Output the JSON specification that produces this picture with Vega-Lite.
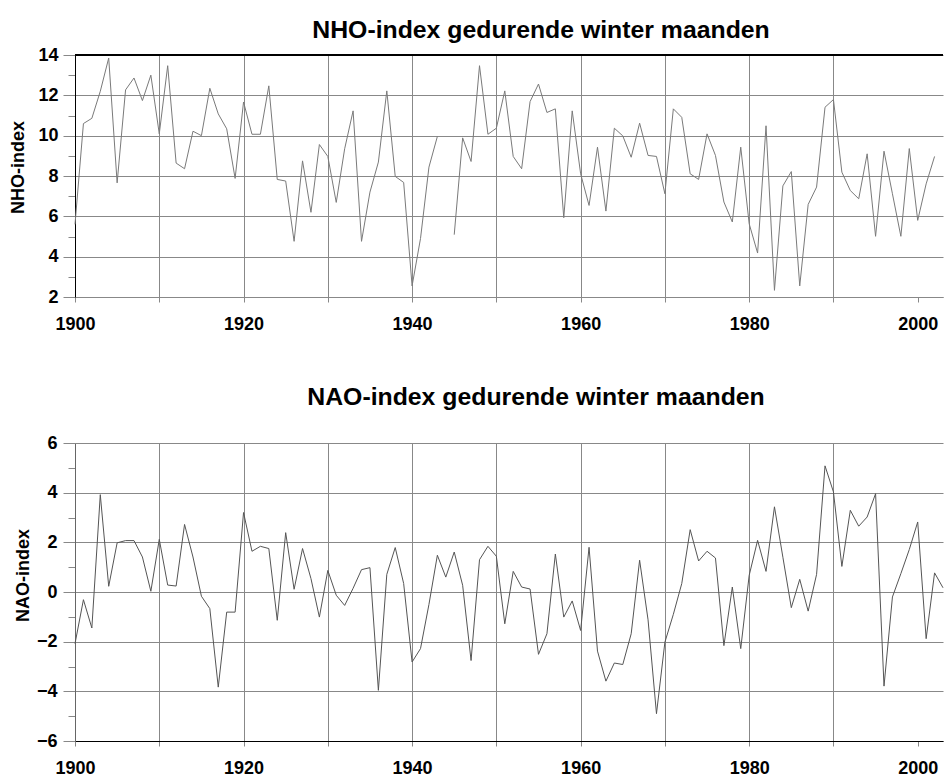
{
  "$schema": "https://vega.github.io/schema/vega-lite/v6.json",
  "background": "white",
  "padding": {"left": 9, "top": 18, "right": 0, "bottom": 0},
  "spacing": 52,
  "config": {
    "font": "Liberation Sans",
    "view": {"stroke": null},
    "title": {"font": "Liberation Sans", "fontSize": 24.8, "fontWeight": "bold", "color": "black", "anchor": "middle"},
    "axis": {
      "labelFont": "Liberation Sans", "labelFontSize": 18, "labelFontWeight": "bold", "labelColor": "black",
      "titleFont": "Liberation Sans", "titleFontSize": 18, "titleFontWeight": "bold", "titleColor": "black",
      "gridColor": "#888888", "gridWidth": 1, "tickColor": "#888888", "tickWidth": 1,
      "labelOverlap": false, "labelBound": false, "labelFlush": false
    }
  },
  "datasets": {
    "nho": [
      {"year": 1900, "value": 5.6}, {"year": 1901, "value": 10.6}, {"year": 1902, "value": 10.86}, {"year": 1903, "value": 12.2},
      {"year": 1904, "value": 13.85}, {"year": 1905, "value": 7.66}, {"year": 1906, "value": 12.27}, {"year": 1907, "value": 12.86},
      {"year": 1908, "value": 11.74}, {"year": 1909, "value": 13.0}, {"year": 1910, "value": 10.09}, {"year": 1911, "value": 13.47},
      {"year": 1912, "value": 8.64}, {"year": 1913, "value": 8.36}, {"year": 1914, "value": 10.22}, {"year": 1915, "value": 10.0},
      {"year": 1916, "value": 12.35}, {"year": 1917, "value": 11.08}, {"year": 1918, "value": 10.34}, {"year": 1919, "value": 7.88},
      {"year": 1920, "value": 11.67}, {"year": 1921, "value": 10.07}, {"year": 1922, "value": 10.07}, {"year": 1923, "value": 12.47},
      {"year": 1924, "value": 7.83}, {"year": 1925, "value": 7.75}, {"year": 1926, "value": 4.76}, {"year": 1927, "value": 8.75},
      {"year": 1928, "value": 6.2}, {"year": 1929, "value": 9.56}, {"year": 1930, "value": 8.97}, {"year": 1931, "value": 6.69},
      {"year": 1932, "value": 9.35}, {"year": 1933, "value": 11.23}, {"year": 1934, "value": 4.76}, {"year": 1935, "value": 7.2},
      {"year": 1936, "value": 8.69}, {"year": 1937, "value": 12.22}, {"year": 1938, "value": 7.98}, {"year": 1939, "value": 7.68},
      {"year": 1940, "value": 2.55}, {"year": 1941, "value": 4.9}, {"year": 1942, "value": 8.44}, {"year": 1943, "value": 9.96},
      {"year": 1944, "value": null},
      {"year": 1945, "value": 5.09}, {"year": 1946, "value": 9.89}, {"year": 1947, "value": 8.72}, {"year": 1948, "value": 13.47},
      {"year": 1949, "value": 10.07}, {"year": 1950, "value": 10.37}, {"year": 1951, "value": 12.22}, {"year": 1952, "value": 8.97},
      {"year": 1953, "value": 8.36}, {"year": 1954, "value": 11.69}, {"year": 1955, "value": 12.56}, {"year": 1956, "value": 11.15},
      {"year": 1957, "value": 11.33}, {"year": 1958, "value": 5.93}, {"year": 1959, "value": 11.23}, {"year": 1960, "value": 8.11},
      {"year": 1961, "value": 6.54}, {"year": 1962, "value": 9.43}, {"year": 1963, "value": 6.26}, {"year": 1964, "value": 10.37},
      {"year": 1965, "value": 9.99}, {"year": 1966, "value": 8.93}, {"year": 1967, "value": 10.62}, {"year": 1968, "value": 9.02},
      {"year": 1969, "value": 8.97}, {"year": 1970, "value": 7.12}, {"year": 1971, "value": 11.33}, {"year": 1972, "value": 10.91},
      {"year": 1973, "value": 8.11}, {"year": 1974, "value": 7.83}, {"year": 1975, "value": 10.09}, {"year": 1976, "value": 9.02},
      {"year": 1977, "value": 6.71}, {"year": 1978, "value": 5.72}, {"year": 1979, "value": 9.43}, {"year": 1980, "value": 5.63},
      {"year": 1981, "value": 4.18}, {"year": 1982, "value": 10.49}, {"year": 1983, "value": 2.33}, {"year": 1984, "value": 7.51},
      {"year": 1985, "value": 8.22}, {"year": 1986, "value": 2.55}, {"year": 1987, "value": 6.59}, {"year": 1988, "value": 7.45},
      {"year": 1989, "value": 11.41}, {"year": 1990, "value": 11.79}, {"year": 1991, "value": 8.19}, {"year": 1992, "value": 7.28},
      {"year": 1993, "value": 6.87}, {"year": 1994, "value": 9.1}, {"year": 1995, "value": 5.01}, {"year": 1996, "value": 9.23},
      {"year": 1997, "value": 7.12}, {"year": 1998, "value": 5.01}, {"year": 1999, "value": 9.36}, {"year": 2000, "value": 5.8},
      {"year": 2001, "value": 7.61}, {"year": 2002, "value": 8.97}
    ],
    "nao": [
      {"year": 1900, "value": -2.08}, {"year": 1901, "value": -0.31}, {"year": 1902, "value": -1.45}, {"year": 1903, "value": 3.92},
      {"year": 1904, "value": 0.23}, {"year": 1905, "value": 1.98}, {"year": 1906, "value": 2.07}, {"year": 1907, "value": 2.07},
      {"year": 1908, "value": 1.41}, {"year": 1909, "value": 0.03}, {"year": 1910, "value": 2.12}, {"year": 1911, "value": 0.28},
      {"year": 1912, "value": 0.24}, {"year": 1913, "value": 2.72}, {"year": 1914, "value": 1.41}, {"year": 1915, "value": -0.17},
      {"year": 1916, "value": -0.67}, {"year": 1917, "value": -3.83}, {"year": 1918, "value": -0.81}, {"year": 1919, "value": -0.81},
      {"year": 1920, "value": 3.2}, {"year": 1921, "value": 1.64}, {"year": 1922, "value": 1.84}, {"year": 1923, "value": 1.75},
      {"year": 1924, "value": -1.14}, {"year": 1925, "value": 2.39}, {"year": 1926, "value": 0.11}, {"year": 1927, "value": 1.75},
      {"year": 1928, "value": 0.54}, {"year": 1929, "value": -1.01}, {"year": 1930, "value": 0.87}, {"year": 1931, "value": -0.13},
      {"year": 1932, "value": -0.54}, {"year": 1933, "value": 0.15}, {"year": 1934, "value": 0.9}, {"year": 1935, "value": 0.98},
      {"year": 1936, "value": -3.96}, {"year": 1937, "value": 0.71}, {"year": 1938, "value": 1.79}, {"year": 1939, "value": 0.34},
      {"year": 1940, "value": -2.82}, {"year": 1941, "value": -2.28}, {"year": 1942, "value": -0.5}, {"year": 1943, "value": 1.48},
      {"year": 1944, "value": 0.6}, {"year": 1945, "value": 1.61}, {"year": 1946, "value": 0.27}, {"year": 1947, "value": -2.76},
      {"year": 1948, "value": 1.3}, {"year": 1949, "value": 1.84}, {"year": 1950, "value": 1.44}, {"year": 1951, "value": -1.28},
      {"year": 1952, "value": 0.83}, {"year": 1953, "value": 0.2}, {"year": 1954, "value": 0.12}, {"year": 1955, "value": -2.51},
      {"year": 1956, "value": -1.68}, {"year": 1957, "value": 1.53}, {"year": 1958, "value": -1.01}, {"year": 1959, "value": -0.36},
      {"year": 1960, "value": -1.55}, {"year": 1961, "value": 1.8}, {"year": 1962, "value": -2.38}, {"year": 1963, "value": -3.59},
      {"year": 1964, "value": -2.86}, {"year": 1965, "value": -2.92}, {"year": 1966, "value": -1.68}, {"year": 1967, "value": 1.28},
      {"year": 1968, "value": -1.12}, {"year": 1969, "value": -4.9}, {"year": 1970, "value": -2.02}, {"year": 1971, "value": -0.9},
      {"year": 1972, "value": 0.34}, {"year": 1973, "value": 2.51}, {"year": 1974, "value": 1.25}, {"year": 1975, "value": 1.64},
      {"year": 1976, "value": 1.37}, {"year": 1977, "value": -2.16}, {"year": 1978, "value": 0.2}, {"year": 1979, "value": -2.28},
      {"year": 1980, "value": 0.67}, {"year": 1981, "value": 2.08}, {"year": 1982, "value": 0.83}, {"year": 1983, "value": 3.43},
      {"year": 1984, "value": 1.4}, {"year": 1985, "value": -0.63}, {"year": 1986, "value": 0.51}, {"year": 1987, "value": -0.77},
      {"year": 1988, "value": 0.71}, {"year": 1989, "value": 5.08}, {"year": 1990, "value": 4.03}, {"year": 1991, "value": 1.03},
      {"year": 1992, "value": 3.29}, {"year": 1993, "value": 2.65}, {"year": 1994, "value": 3.02}, {"year": 1995, "value": 3.96},
      {"year": 1996, "value": -3.79}, {"year": 1997, "value": -0.2}, {"year": 1998, "value": 0.74}, {"year": 1999, "value": 1.71},
      {"year": 2000, "value": 2.82}, {"year": 2001, "value": -1.88}, {"year": 2002, "value": 0.77}, {"year": 2003, "value": 0.17}
    ]
  },
  "vconcat": [
    {
      "title": {"text": "NHO-index gedurende winter maanden", "dx": 32, "offset": 3},
      "width": 868,
      "height": 242,
      "data": {"name": "nho"},
      "layer": [
        {
          "mark": {"type": "line", "color": "#7a7a7a", "strokeWidth": 1, "invalid": "break-paths-show-domains"},
          "encoding": {
            "x": {
              "field": "year", "type": "quantitative",
              "scale": {"domain": [1900, 2003], "nice": false, "zero": false},
              "axis": {
                "title": null, "values": [1900, 1910, 1920, 1930, 1940, 1950, 1960, 1970, 1980, 1990, 2000],
                "format": "d", "labelExpr": "datum.value % 20 == 0 ? datum.label : ''",
                "tickSize": 5, "labelPadding": 13, "domainColor": "#888888",
                "gridOpacity": {"condition": {"test": "datum.value == 1900 || datum.value == 2000", "value": 0}, "value": 1}
              }
            },
            "y": {
              "field": "value", "type": "quantitative",
              "scale": {"domain": [2, 14], "nice": false, "zero": false},
              "axis": {
                "title": "NHO-index", "values": [2, 3, 4, 5, 6, 7, 8, 9, 10, 11, 12, 13, 14],
                "labelExpr": "datum.value % 2 == 0 ? datum.label : ''",
                "tickSize": 12, "labelPadding": 5, "domainColor": "black",
                "tickDash": {"condition": {"test": "datum.value % 2 != 0", "value": [7, 20]}, "value": []},
                "gridOpacity": {"condition": {"test": "datum.value % 2 != 0", "value": 0}, "value": 1},
                "titleX": -52, "titleY": 112, "titleBaseline": "alphabetic", "titleAlign": "center"
              }
            }
          }
        },
        {
          "mark": {"type": "rule", "color": "black", "strokeWidth": 1},
          "encoding": {
            "y": {
              "datum": 14, "type": "quantitative",
              "scale": {"domain": [2, 14], "nice": false, "zero": false},
              "axis": {
                "title": "NHO-index", "values": [2, 3, 4, 5, 6, 7, 8, 9, 10, 11, 12, 13, 14],
                "labelExpr": "datum.value % 2 == 0 ? datum.label : ''",
                "tickSize": 12, "labelPadding": 5, "domainColor": "black",
                "tickDash": {"condition": {"test": "datum.value % 2 != 0", "value": [7, 20]}, "value": []},
                "gridOpacity": {"condition": {"test": "datum.value % 2 != 0", "value": 0}, "value": 1},
                "titleX": -52, "titleY": 112, "titleBaseline": "alphabetic", "titleAlign": "center"
              }
            }
          }
        }
      ]
    },
    {
      "title": {"text": "NAO-index gedurende winter maanden", "dx": 27, "offset": 24},
      "width": 868,
      "height": 298,
      "data": {"name": "nao"},
      "mark": {"type": "line", "color": "#555555", "strokeWidth": 1},
      "encoding": {
        "x": {
          "field": "year", "type": "quantitative",
          "scale": {"domain": [1900, 2003], "nice": false, "zero": false},
          "axis": {
            "title": null, "values": [1900, 1910, 1920, 1930, 1940, 1950, 1960, 1970, 1980, 1990, 2000],
            "format": "d", "labelExpr": "datum.value % 20 == 0 ? datum.label : ''",
            "tickSize": 5, "labelPadding": 13, "domainColor": "black",
            "gridOpacity": {"condition": {"test": "datum.value == 1900 || datum.value == 2000", "value": 0}, "value": 1}
          }
        },
        "y": {
          "field": "value", "type": "quantitative",
          "scale": {"domain": [-6, 6], "nice": false, "zero": false},
          "axis": {
            "title": "NAO-index", "values": [-6, -5, -4, -3, -2, -1, 0, 1, 2, 3, 4, 5, 6],
            "labelExpr": "datum.value % 2 == 0 ? datum.label : ''",
            "tickSize": 12, "labelPadding": 6, "domainColor": "#666666",
            "tickDash": {"condition": {"test": "datum.value % 2 != 0", "value": [7, 20]}, "value": []},
            "gridOpacity": {"condition": {"test": "datum.value % 2 != 0", "value": 0}, "value": 1},
            "titleX": -47, "titleY": 132, "titleBaseline": "alphabetic", "titleAlign": "center"
          }
        }
      }
    }
  ]
}
